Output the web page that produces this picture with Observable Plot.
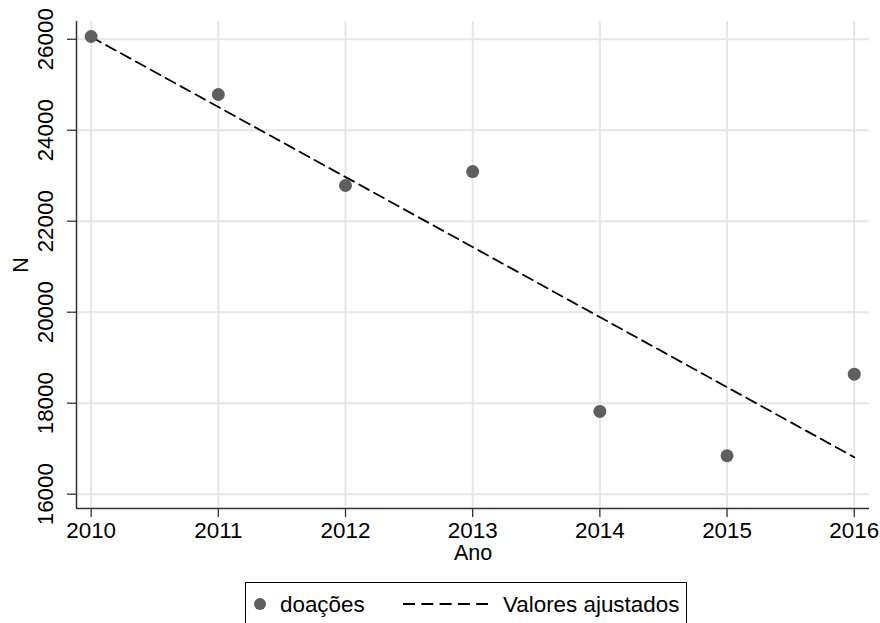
<!DOCTYPE html>
<html>
<head>
<meta charset="utf-8">
<script src="https://cdn.jsdelivr.net/npm/d3@7"></script>
<script src="https://cdn.jsdelivr.net/npm/@observablehq/plot@0.6"></script>
<style>
  body { margin: 0; background: #fff; }
  #wrap { position: relative; width: 880px; height: 623px; overflow: hidden; font-family: "Liberation Sans", Arial, sans-serif; }
  #chart svg { display: block; }
  #legend { position: absolute; left: 245px; top: 582px; width: 442px; height: 60px; border: 1px solid #000; box-sizing: border-box; background: #fff; }
  #legend svg { position: absolute; left: 0; top: 0; }
</style>
</head>
<body>
<div id="wrap">
  <div id="chart"></div>
  <div id="legend"></div>
</div>
<script>
const years = [2010, 2011, 2012, 2013, 2014, 2015, 2016];
const doacoes = [26060, 24785, 22785, 23092, 17818, 16844, 18637];
const yTicks = [16000, 18000, 20000, 22000, 24000, 26000];
const xTicks = [2010, 2011, 2012, 2013, 2014, 2015, 2016];
const xLabel = "Ano";
const yLabel = "N";
const seriesLabels = ["doações", "Valores ajustados"];

const data = years.map((yr, i) => ({ano: yr, n: doacoes[i]}));
const fs = 22.4;
const fsTitle = 21.5;
const pointColor = "#5f5f5f";

const chart = Plot.plot({
  width: 880,
  height: 575,
  marginLeft: 76,
  marginRight: 11,
  marginTop: 21,
  marginBottom: 67,
  style: { fontFamily: "'Liberation Sans', Arial, sans-serif", fontSize: fs + "px", color: "#000", background: "#fff" },
  x: { domain: [2009.885, 2016.12] },
  y: { domain: [15685, 26390] },
  marks: [
    Plot.gridX(xTicks, { stroke: "#e6e6e6", strokeOpacity: 1, strokeWidth: 2 }),
    Plot.gridY(yTicks, { stroke: "#e6e6e6", strokeOpacity: 1, strokeWidth: 2 }),
    Plot.axisX(xTicks, { tickSize: 9, tickPadding: 5, tickFormat: d => String(d), label: null, stroke: "#333", strokeWidth: 1.3, fontSize: fs }),
    Plot.axisY(yTicks, { tickSize: 9, tickFormat: () => "", label: null, stroke: "#333", strokeWidth: 1.3 }),
    Plot.text(yTicks, { y: d => d, text: d => String(d), frameAnchor: "left", dx: -39, rotate: -90, textAnchor: "middle", lineAnchor: "top", fontSize: fs, fill: "#000" }),
    Plot.text([yLabel], { text: d => d, frameAnchor: "left", dx: -64, rotate: -90, textAnchor: "middle", lineAnchor: "top", fontSize: fsTitle, fill: "#000" }),
    Plot.text([xLabel], { text: d => d, frameAnchor: "bottom", dy: 36, textAnchor: "middle", lineAnchor: "top", fontSize: fsTitle, fill: "#000" }),
    Plot.ruleX([2009.885], { stroke: "#333", strokeWidth: 1.5 }),
    Plot.ruleY([15685], { stroke: "#333", strokeWidth: 1.5 }),
    Plot.linearRegressionY(data, { x: "ano", y: "n", ci: 0, stroke: "#000", strokeWidth: 1.8, strokeDasharray: "11,6" }),
    Plot.dot(data, { x: "ano", y: "n", r: 6.5, fill: pointColor, stroke: "none" })
  ]
});
document.getElementById("chart").appendChild(chart);

// legend
const lg = d3.select("#legend").append("svg").attr("width", 442).attr("height", 60)
  .style("font-family", "'Liberation Sans', Arial, sans-serif").style("font-size", fs + "px");
lg.append("circle").attr("cx", 14).attr("cy", 21).attr("r", 6).attr("fill", pointColor);
lg.append("text").attr("x", 34).attr("y", 29).text(seriesLabels[0]);
lg.append("line").attr("x1", 157).attr("x2", 242).attr("y1", 21).attr("y2", 21)
  .attr("stroke", "#000").attr("stroke-width", 1.8).attr("stroke-dasharray", "12,6.3");
lg.append("text").attr("x", 257).attr("y", 29).text(seriesLabels[1]);
</script>
</body>
</html>
